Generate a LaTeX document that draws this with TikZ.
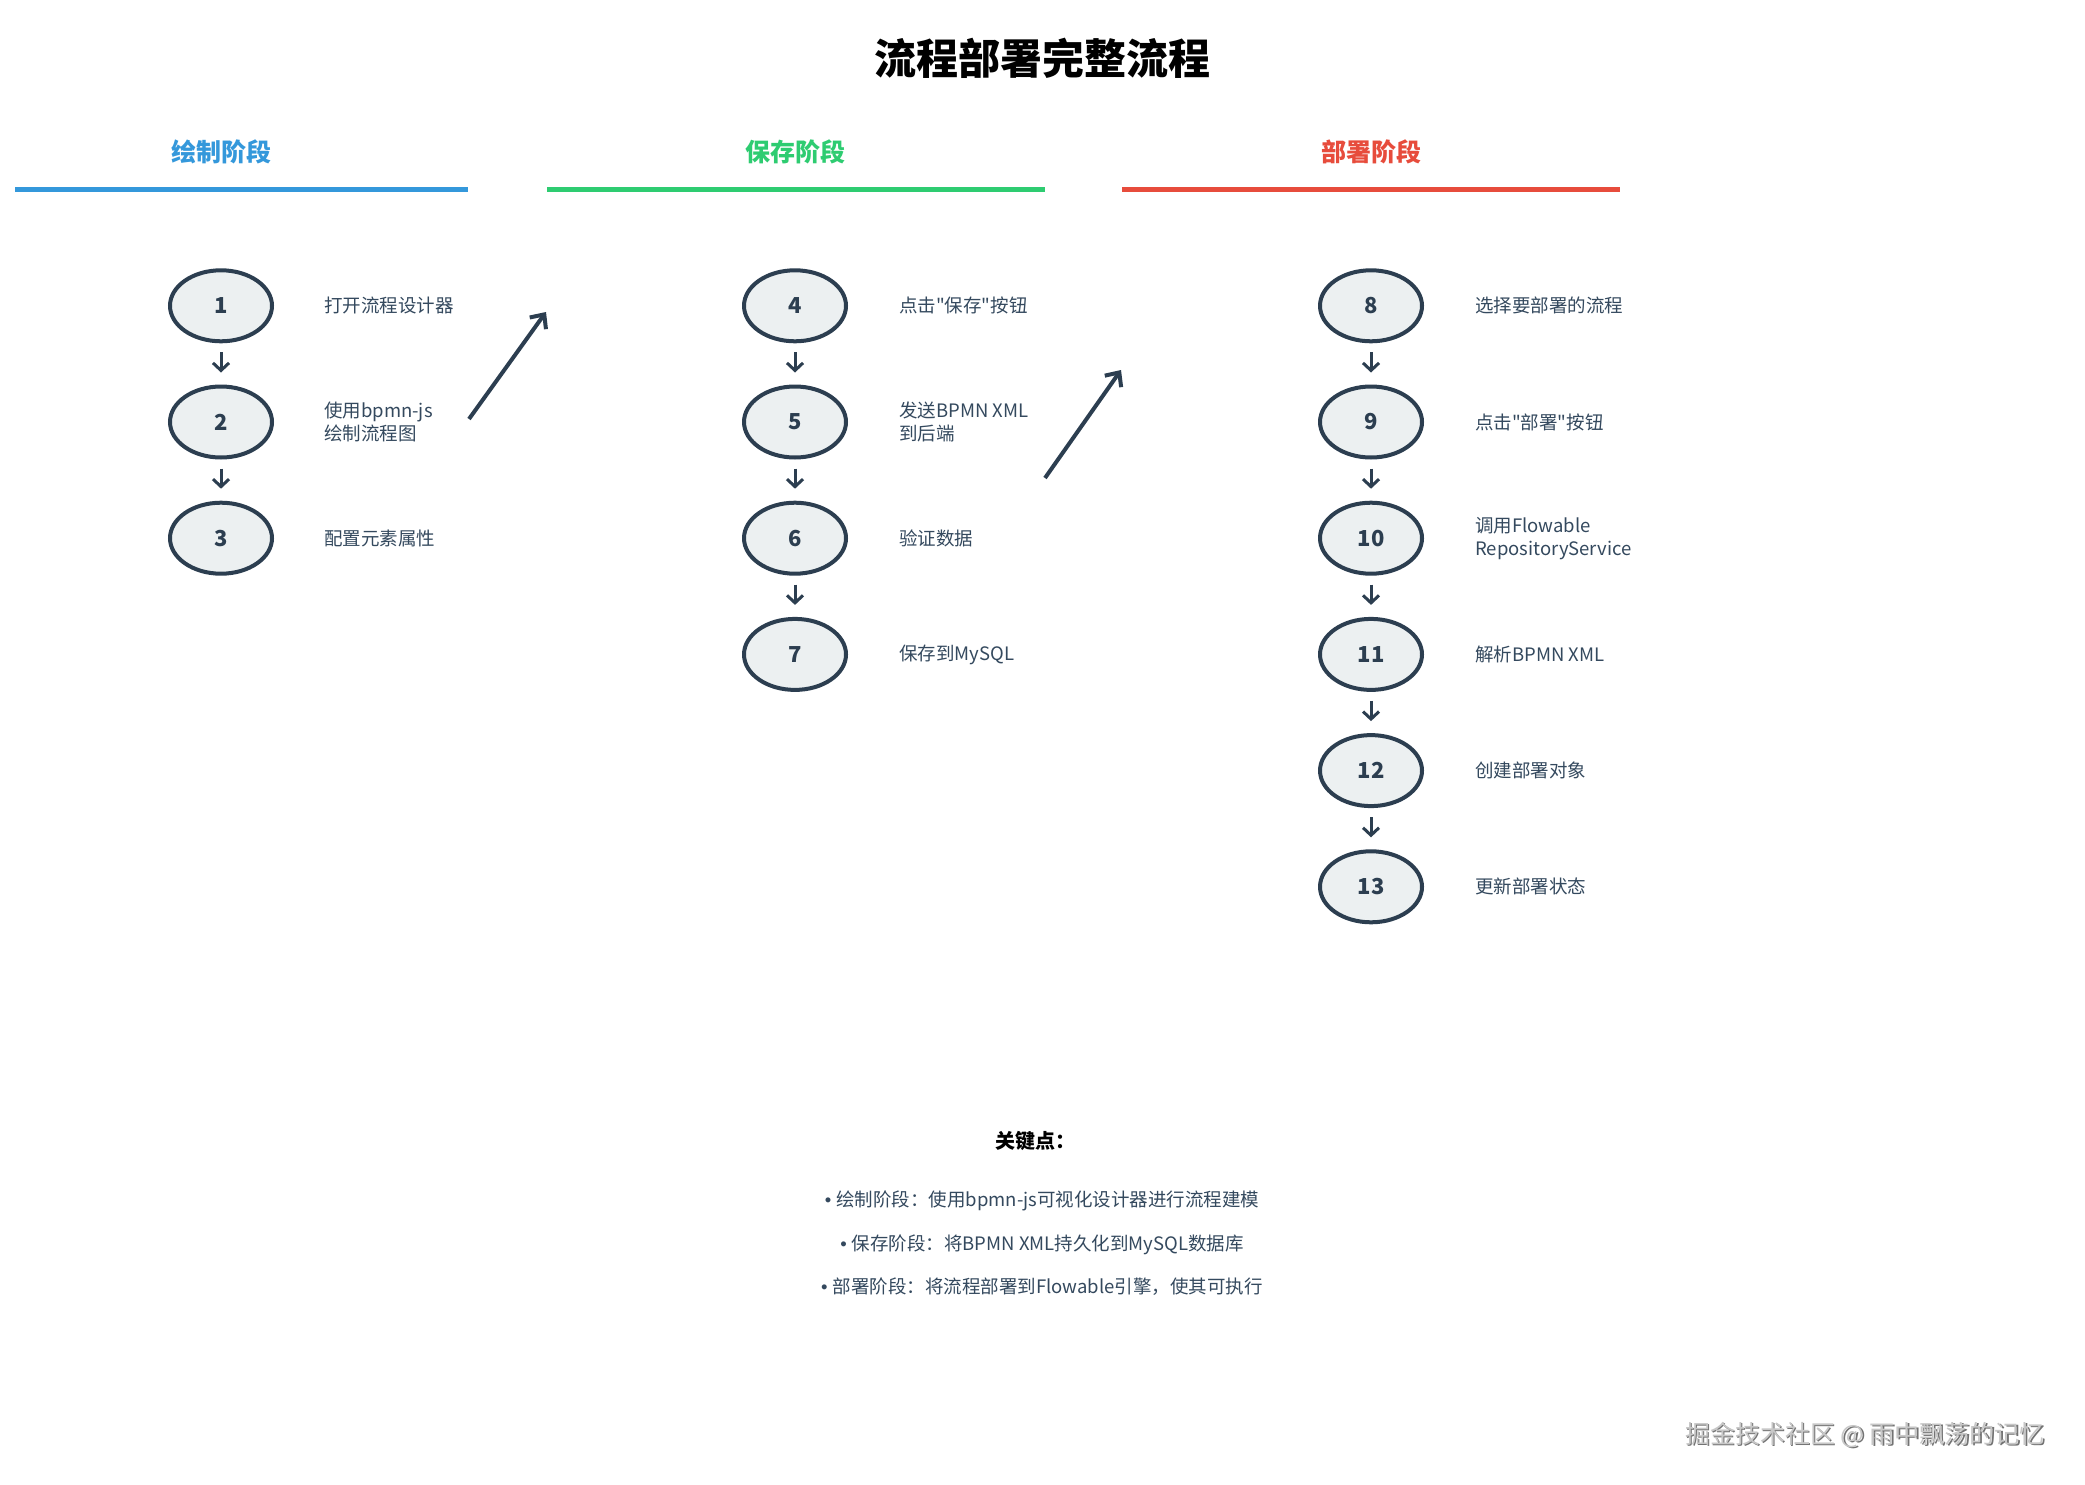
\documentclass[tikz,border=0pt]{standalone}
\usepackage{fontspec}
\setmainfont{Noto Sans CJK SC}
\newfontfamily\qfont{Noto Sans CJK SC}
\newfontfamily\bulfont{Liberation Sans}
\usetikzlibrary{shapes.geometric,arrows.meta}
\definecolor{navy}{HTML}{2C3E50}
\definecolor{fillc}{HTML}{ECF0F1}
\definecolor{blueh}{HTML}{3498DB}
\definecolor{greenh}{HTML}{2ECC71}
\definecolor{redh}{HTML}{E74C3C}
\definecolor{labc}{HTML}{34495E}
\newcommand{\dq}{{\qfont "}}
\newcommand{\bul}{{\bulfont •}\hspace{5pt}}
\begin{document}
\begin{tikzpicture}[x=1pt,y=-1pt,
  stepnode/.style={ellipse, draw=navy, line width=4pt, fill=fillc,
    minimum width=102pt, minimum height=71pt, inner sep=0pt,
    font=\fontsize{22}{26}\selectfont\bfseries, text=navy},
  lab/.style={anchor=west, align=left, font=\fontsize{18.5}{23}\selectfont,
    text=labc, inner sep=0pt},
  down/.style={-{Straight Barb[length=7.5pt,width=16pt]}, line width=3pt,
    draw=navy, shorten <=9pt, shorten >=12pt},
  diag/.style={-{Straight Barb[length=11pt,width=20pt]}, line width=4pt,
    draw=navy},
  phase/.style={font=\fontsize{25}{30}\selectfont\bfseries},
  keyline/.style={font=\fontsize{18.5}{23}\selectfont, text=labc},
]
\useasboundingbox[fill=white] (0,0) rectangle (2085,1485);

% title
\node[font=\fontsize{42}{50}\selectfont\bfseries, text=black] (title) at (1042,58) {流程部署完整流程};

% phase headers
\node[phase, text=blueh] (h1) at (221,152) {绘制阶段};
\node[phase, text=greenh] (h2) at (795,152) {保存阶段};
\node[phase, text=redh] (h3) at (1371,152) {部署阶段};
\draw[blueh, line width=5pt] (15,189) -- (468,189);
\draw[greenh, line width=5pt] (547,189) -- (1045,189);
\draw[redh, line width=5pt] (1122,189) -- (1620,189);

% column 1
\node[stepnode] (s1) at (221,305.8) {1};
\node[stepnode] (s2) at (221,422) {2};
\node[stepnode] (s3) at (221,538.2) {3};
\node[lab] (l1) at (324,305.8) {打开流程设计器};
\node[lab] (l2) at (324,422) {使用bpmn-js\\绘制流程图};
\node[lab] (l3) at (324,538.2) {配置元素属性};
\draw[down] (s1.south) -- (s2.north);
\draw[down] (s2.south) -- (s3.north);

% column 2
\node[stepnode] (s4) at (795,305.8) {4};
\node[stepnode] (s5) at (795,422) {5};
\node[stepnode] (s6) at (795,538.2) {6};
\node[stepnode] (s7) at (795,654.4) {7};
\node[lab] (l4) at (899,305.8) {点击\dq 保存\dq 按钮};
\node[lab] (l5) at (899,422) {发送BPMN XML\\到后端};
\node[lab] (l6) at (899,538.2) {验证数据};
\node[lab] (l7) at (899,654.4) {保存到MySQL};
\draw[down] (s4.south) -- (s5.north);
\draw[down] (s5.south) -- (s6.north);
\draw[down] (s6.south) -- (s7.north);

% column 3
\node[stepnode] (s8) at (1371,305.8) {8};
\node[stepnode] (s9) at (1371,422) {9};
\node[stepnode] (s10) at (1371,538.2) {10};
\node[stepnode] (s11) at (1371,654.4) {11};
\node[stepnode] (s12) at (1371,770.6) {12};
\node[stepnode] (s13) at (1371,886.8) {13};
\node[lab] (l8) at (1475,305.8) {选择要部署的流程};
\node[lab] (l9) at (1475,422) {点击\dq 部署\dq 按钮};
\node[lab] (l10) at (1475,538.2) {调用Flowable\\RepositoryService};
\node[lab] (l11) at (1475,654.4) {解析BPMN XML};
\node[lab] (l12) at (1475,770.6) {创建部署对象};
\node[lab] (l13) at (1475,886.8) {更新部署状态};
\draw[down] (s8.south) -- (s9.north);
\draw[down] (s9.south) -- (s10.north);
\draw[down] (s10.south) -- (s11.north);
\draw[down] (s11.south) -- (s12.north);
\draw[down] (s12.south) -- (s13.north);

% phase transition arrows
\coordinate (d1s) at (469,419);
\coordinate (d1e) at (546,312);
\coordinate (d2s) at (1045,478);
\coordinate (d2e) at (1121,370);
\draw[diag] (d1s) -- (d1e);
\draw[diag] (d2s) -- (d2e);

% key points
\node[font=\fontsize{20}{24}\selectfont\bfseries, text=black] (kp) at (1035,1141) {关键点：};
\node[keyline] (k1) at (1042,1201) {\bul 绘制阶段：使用bpmn-js可视化设计器进行流程建模};
\node[keyline] (k2) at (1042,1245) {\bul 保存阶段：将BPMN XML持久化到MySQL数据库};
\node[keyline] (k3) at (1042,1287) {\bul 部署阶段：将流程部署到Flowable引擎，使其可执行};

% watermark
\node[anchor=east, font=\fontsize{25}{30}\selectfont, text=black!55] (wms) at (2050,1436.5) {掘金技术社区 @ 雨中飘荡的记忆};
\node[anchor=east, font=\fontsize{25}{30}\selectfont, text=black!22] (wm) at (2048.5,1435) {掘金技术社区 @ 雨中飘荡的记忆};
\end{tikzpicture}
\end{document}
